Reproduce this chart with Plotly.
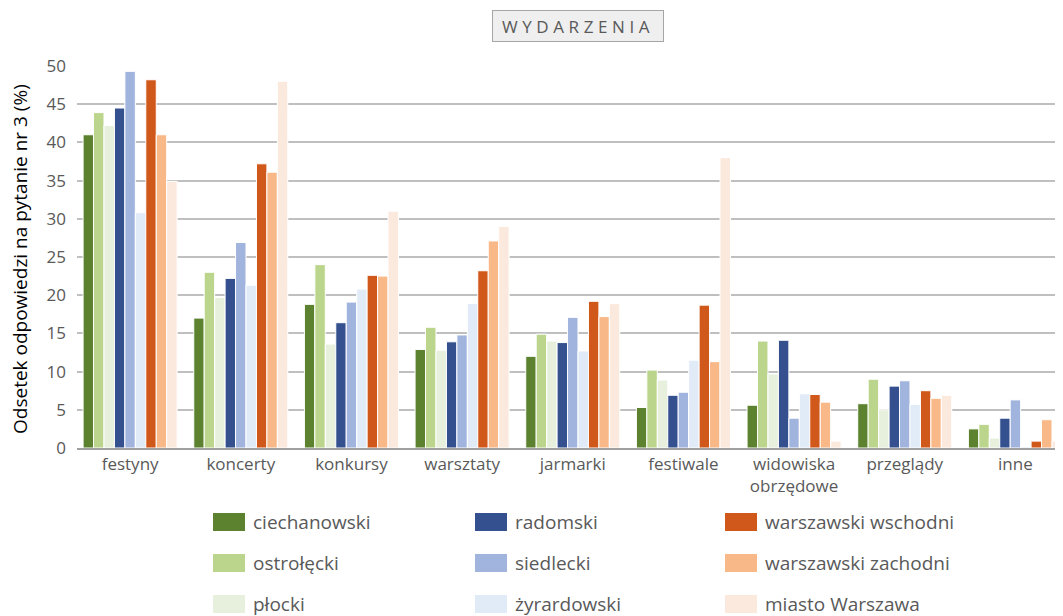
import plotly.graph_objects as go

categories = ["festyny", "koncerty", "konkursy", "warsztaty", "jarmarki",
              "festiwale", "widowiska<br>obrzędowe", "przeglądy", "inne"]

series_names = ["ciechanowski", "ostrołęcki", "płocki", "radomski", "siedlecki",
                "żyrardowski", "warszawski wschodni", "warszawski zachodni", "miasto Warszawa"]

ciechanowski = [41.0, 17.0, 18.8, 12.9, 12.0, 5.3, 5.6, 5.8, 2.5]
ostrolecki = [43.9, 23.0, 24.0, 15.8, 14.9, 10.2, 14.0, 9.0, 3.1]
plocki = [42.2, 19.7, 13.6, 12.8, 14.0, 8.9, 9.7, 5.0, 1.3]
radomski = [44.5, 22.2, 16.4, 13.9, 13.8, 6.9, 14.1, 8.1, 3.9]
siedlecki = [49.3, 26.9, 19.1, 14.8, 17.1, 7.3, 3.9, 8.8, 6.3]
zyrardowski = [30.8, 21.3, 20.8, 18.9, 12.7, 11.5, 7.1, 5.7, 0.2]
warszawski_wschodni = [48.2, 37.2, 22.6, 23.2, 19.2, 18.7, 7.0, 7.5, 0.9]
warszawski_zachodni = [41.0, 36.1, 22.5, 27.1, 17.2, 11.3, 6.0, 6.5, 3.7]
miasto_warszawa = [34.9, 48.0, 31.0, 29.0, 18.9, 38.0, 0.9, 6.9, 0.9]

series_values = [ciechanowski, ostrolecki, plocki, radomski, siedlecki,
                 zyrardowski, warszawski_wschodni, warszawski_zachodni, miasto_warszawa]

colors = ["#5C822F", "#BBD58C", "#E7F0DD", "#34508F", "#A1B4DD",
          "#E1EBF8", "#D0581B", "#F8B888", "#FCE9DD"]

y_ticks = [0, 5, 10, 15, 20, 25, 30, 35, 40, 45, 50]

# page has an 8px body margin: work in page pixels and convert
OFF = 8
PAGE_W, PAGE_H = 1063, 616
W, H = PAGE_W - OFF, PAGE_H - OFF
PLOT_L, PLOT_R, PLOT_T, PLOT_B = 77, 1063, 66, 448   # page pixels
L = PLOT_L - OFF
R = W - (PLOT_R - OFF)
T = PLOT_T - OFF
B = H - (PLOT_B - OFF)
PW, PH = W - L - R, H - T - B

def px_x(px):
    return (px - PLOT_L) / PW

def px_y(py):
    return (PLOT_B - py) / PH

TEXT = "#595959"
FONT = "Open Sans"

fig = go.Figure()
for name, vals, col in zip(series_names, series_values, colors):
    fig.add_trace(go.Bar(
        x=categories, y=vals, name=name,
        marker=dict(color=col, line=dict(color="white", width=1)),
        showlegend=False,
    ))

# legend laid out column-major, 3x3
leg_cols_sw = [213, 475, 725]
leg_rows = [522, 563, 604]
shapes = []
annotations = []
for i, (name, col) in enumerate(zip(series_names, colors)):
    c, r = divmod(i, 3)
    x0 = leg_cols_sw[c]
    yc = leg_rows[r]
    shapes.append(dict(type="rect", xref="paper", yref="paper",
                       x0=px_x(x0), x1=px_x(x0 + 32),
                       y0=px_y(yc + 9), y1=px_y(yc - 9),
                       fillcolor=col, line=dict(width=0)))
    annotations.append(dict(xref="paper", yref="paper",
                            x=px_x(x0 + 38), y=px_y(yc),
                            xanchor="left", yanchor="middle",
                            text=name, showarrow=False,
                            font=dict(family=FONT, size=19, color=TEXT)))

annotations.append(dict(xref="paper", yref="paper",
                        x=px_x(578), y=px_y(26.5),
                        xanchor="center", yanchor="middle",
                        text='<span style="letter-spacing:4.6px">WYDARZENIA</span>',
                        showarrow=False,
                        width=168, height=28,
                        bgcolor="#EFEFEF", bordercolor="#A6A6A6", borderwidth=1,
                        font=dict(family=FONT, size=17, color=TEXT)))

annotations.append(dict(xref="paper", yref="paper",
                        x=px_x(20), y=px_y(259),
                        xanchor="center", yanchor="middle",
                        text="Odsetek odpowiedzi na pytanie nr 3 (%)",
                        textangle=-90, showarrow=False,
                        font=dict(family=FONT, size=19, color="#000000")))

fig.update_layout(
    width=W, height=H,
    margin=dict(l=L, r=R, t=T, b=B, autoexpand=False),
    paper_bgcolor="white", plot_bgcolor="white",
    barmode="group", bargap=0.15, bargroupgap=0.0,
    shapes=shapes, annotations=annotations,
    font=dict(family=FONT, color=TEXT),
)
fig.update_xaxes(
    type="category", range=[-0.48, 8.43],
    showline=True, linecolor="#A0A0A0", linewidth=1.5,
    ticks="", tickfont=dict(family=FONT, size=17, color=TEXT),
    showgrid=False,
)
fig.update_yaxes(
    range=[0, 50], tickvals=y_ticks,
    showgrid=True, gridcolor="#BFBFBF", gridwidth=1.5,
    zeroline=False, showline=False,
    ticks="", ticklabelstandoff=10,
    tickfont=dict(family=FONT, size=17, color=TEXT),
)

fig.write_html("out.html")
